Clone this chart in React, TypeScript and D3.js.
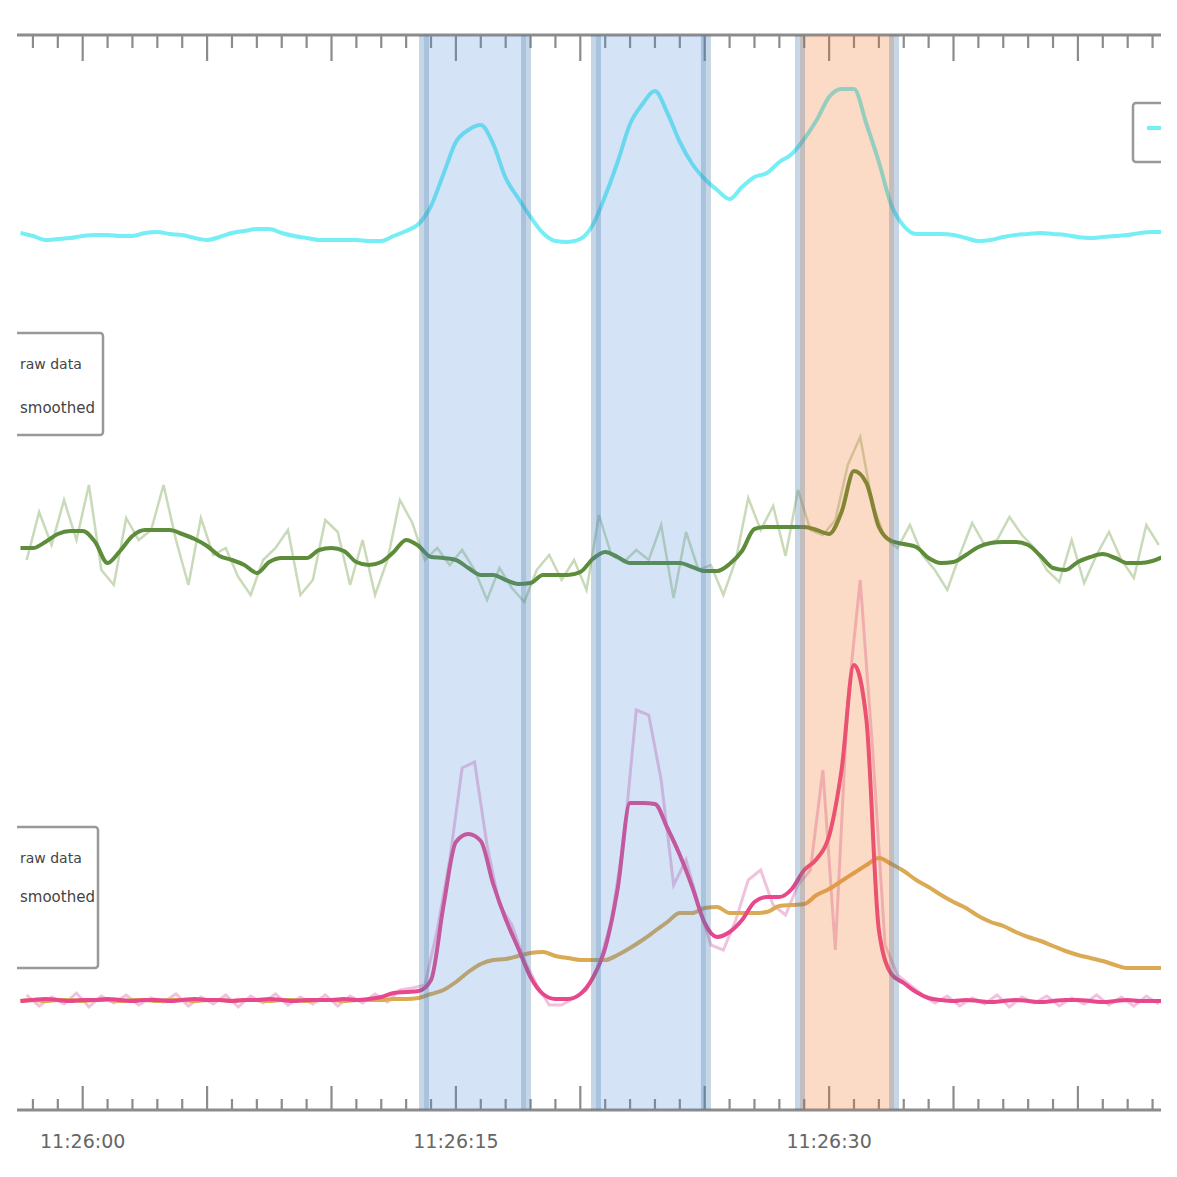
import React from "react";
import * as d3 from "d3";

// time base: 11:26:00, series sampled every 0.5 s
const BASE = new Date(2024, 0, 1, 11, 26, 0).getTime();
const SMOOTH_START = -2.5;
const RAW_START = -2.25;
const STEP = 0.5;

const respiration = [
  877, 874, 870, 871, 872, 874, 875, 875, 874, 874, 877, 878, 876, 875, 872, 870, 873, 877, 879, 881,
  881, 877, 874, 872, 870, 870, 870, 870, 869, 869, 874, 879, 886, 904, 936, 968, 980, 985, 966, 932,
  912, 893, 877, 869, 868, 871, 885, 914, 948, 986, 1006, 1019, 997, 968, 946, 931, 920, 911, 923, 933,
  937, 948, 956, 971, 990, 1013, 1021, 1021, 986, 948, 905, 884, 876, 876, 876, 875, 872, 869, 870, 873,
  875, 876, 877, 876, 875, 873, 872, 873, 874, 875, 877, 878, 878,
];

const hrSmooth = [
  562, 562, 568, 576, 579, 579, 568, 547, 559, 574, 580, 580, 580, 576, 571, 564, 554, 550, 545, 537,
  548, 552, 552, 552, 560, 562, 559, 548, 545, 548, 558, 570, 564, 553, 552, 550, 542, 535, 535, 530,
  526, 527, 535, 535, 535, 538, 551, 558, 553, 547, 547, 547, 547, 547, 543, 539, 539, 546, 559, 581,
  583, 583, 583, 583, 580, 576, 598, 639, 627, 583, 569, 566, 563, 552, 547, 548, 555, 563, 567, 568,
  568, 565, 554, 542, 540, 548, 553, 556, 552, 547, 547, 549, 554,
];

const hrRaw = [
  550, 598, 565, 610, 570, 625, 540, 525, 592, 570, 580, 625, 570, 525, 592, 555, 562, 533, 515, 550,
  562, 580, 515, 530, 590, 578, 525, 570, 515, 550, 610, 587, 550, 562, 545, 560, 540, 510, 542, 522,
  508, 540, 555, 530, 550, 520, 595, 555, 548, 560, 550, 585, 512, 578, 540, 545, 515, 550, 612, 580,
  604, 554, 620, 580, 575, 590, 645, 673, 605, 572, 562, 585, 555, 540, 520, 555, 587, 565, 570, 593,
  575, 562, 540, 528, 570, 527, 555, 578, 550, 532, 585, 565,
];

const edaSmooth = [
  109, 110, 111, 110, 109, 110, 110, 111, 110, 109, 110, 110, 109, 110, 111, 110, 110, 109, 110, 110,
  111, 110, 109, 110, 110, 110, 111, 110, 111, 113, 117, 118, 119, 130, 204, 268, 276, 269, 226, 191,
  162, 133, 116, 111, 111, 116, 132, 162, 221, 307, 307, 306, 282, 255, 223, 187, 173, 178, 190, 208,
  213, 213, 221, 240, 251, 274, 340, 445, 390, 180, 136, 127, 118, 112, 110, 109, 110, 109, 108, 109,
  110, 109, 108, 109, 110, 110, 109, 108, 109, 110, 109, 109, 109,
];

const edaRaw = [
  115, 104, 113, 106, 117, 103, 114, 107, 115, 105, 112, 108, 116, 104, 113, 106, 115, 103, 114, 107,
  116, 105, 113, 106, 115, 104, 114, 107, 116, 108, 120, 122, 125, 180, 250, 342, 348, 265, 205, 185,
  150, 125, 105, 105, 112, 120, 145, 190, 270, 400, 395, 330, 225, 250, 205, 165, 160, 190, 230, 240,
  205, 195, 225, 240, 340, 160, 410, 530, 360, 165, 135, 125, 115, 107, 114, 104, 112, 106, 115, 103,
  113, 107, 114, 104, 112, 106, 115, 105, 113, 104, 114, 106,
];

const edaTonic = [
  109, 110, 109, 110, 110, 109, 110, 110, 109, 110, 110, 109, 110, 110, 109, 110, 110, 109, 110, 110,
  109, 110, 110, 109, 110, 110, 109, 110, 110, 110, 111, 111, 112, 116, 120, 128, 138, 146, 150, 151,
  154, 157, 158, 154, 152, 150, 150, 150, 155, 162, 170, 179, 188, 197, 197, 202, 203, 197, 197, 197,
  198, 204, 205, 206, 215, 221, 229, 237, 245, 252, 246, 239, 230, 223, 215, 208, 202, 194, 188, 184,
  178, 173, 169, 164, 159, 155, 152, 149, 145, 142, 142, 142, 142,
];

// event windows (seconds after 11:26:00)
const regionStarts = [13.72, 20.63, 28.83];
const regionEnds = [17.82, 25.05, 32.61];
const regionKinds = ["blue", "blue", "orange"];

const legendHrLabels = ["raw data", "smoothed"];
const legendEdaLabels = ["raw data", "smoothed"];

const toDate = (s: number) => new Date(BASE + s * 1000);
const toPairs = (vals: number[], start: number): [number, number][] =>
  vals.map((v, i) => [start + i * STEP, v]);

export default function App() {
  const W = 1177;
  const H = 1177;
  const CLIP_R = 1161;
  const x = d3.scaleTime().domain([toDate(-2.6), toDate(46)]).range([18, 1227.2]);
  const y = d3.scaleLinear().domain([0, 1075]).range([1110, 35]);
  const yTop = y(1075);
  const yBot = y(0);

  const smooth = d3
    .line<[number, number]>()
    .x((d) => x(toDate(d[0])))
    .y((d) => y(d[1]))
    .curve(d3.curveMonotoneX);
  const raw = d3
    .line<[number, number]>()
    .x((d) => x(toDate(d[0])))
    .y((d) => y(d[1]))
    .curve(d3.curveLinear);

  const ticks = x.ticks(d3.timeSecond.every(1) as any);
  const fmt = d3.timeFormat("%H:%M:%S");
  const axisColor = "#8c8c8c";

  return (
    <svg
      width={W}
      height={H}
      style={{ position: "absolute", left: 0, top: 0, background: "#fff" }}
      fontFamily="DejaVu Sans, sans-serif"
    >
      <defs>
        <clipPath id="crop">
          <rect x={17} y={0} width={CLIP_R - 17} height={H} />
        </clipPath>
      </defs>
      <rect x={0} y={0} width={W} height={H} fill="#fff" />
      <g clipPath="url(#crop)">
        {/* axes */}
        <line x1={x.range()[0] - 1} x2={x.range()[1]} y1={yTop} y2={yTop} stroke={axisColor} strokeWidth={3} />
        <line x1={x.range()[0] - 3} x2={x.range()[1]} y1={yBot} y2={yBot} stroke={axisColor} strokeWidth={3} />
        {ticks.map((t, i) => {
          const s = t.getSeconds();
          const major = s % 5 === 0;
          const xx = x(t);
          return (
            <g key={i}>
              <line x1={xx} x2={xx} y1={yTop} y2={yTop + (major ? 26 : 13)} stroke={axisColor} strokeWidth={2.2} />
              <line x1={xx} x2={xx} y1={yBot} y2={yBot - (major ? 24 : 11)} stroke={axisColor} strokeWidth={2.2} />
              {s % 15 === 0 && xx + 50 < CLIP_R && (
                <text x={xx} y={yBot + 38} textAnchor="middle" fontSize={19} fill="#666">
                  {fmt(t)}
                </text>
              )}
            </g>
          );
        })}

        {/* traces */}
        <path d={raw(toPairs(hrRaw, RAW_START)) || ""} fill="none" stroke="#9cbc80" strokeOpacity={0.55} strokeWidth={2.5} />
        <path d={smooth(toPairs(hrSmooth, SMOOTH_START)) || ""} fill="none" stroke="#5d8c3a" strokeWidth={4} strokeLinejoin="round" />
        <path d={smooth(toPairs(respiration, SMOOTH_START)) || ""} fill="none" stroke="#76eef5" strokeWidth={4} strokeLinejoin="round" />
        <path d={raw(toPairs(edaRaw, RAW_START)) || ""} fill="none" stroke="#e89ac6" strokeOpacity={0.6} strokeWidth={3} />
        <path d={smooth(toPairs(edaTonic, SMOOTH_START)) || ""} fill="none" stroke="#dbaa55" strokeWidth={4} strokeLinejoin="round" />
        <path d={smooth(toPairs(edaSmooth, SMOOTH_START)) || ""} fill="none" stroke="#e8478b" strokeWidth={4} strokeLinejoin="round" />

        {/* event windows */}
        {regionStarts.map((s, i) => {
          const x0 = x(toDate(s));
          const x1 = x(toDate(regionEnds[i]));
          const fill = regionKinds[i] === "blue" ? "rgba(74,144,217,0.24)" : "rgba(240,115,35,0.26)";
          return (
            <g key={i}>
              <rect x={x0} y={yTop} width={x1 - x0} height={yBot - yTop} fill={fill} />
              <line x1={x0} x2={x0} y1={yTop} y2={yBot} stroke="rgba(70,120,170,0.3)" strokeWidth={10} />
              <line x1={x1} x2={x1} y1={yTop} y2={yBot} stroke="rgba(70,120,170,0.3)" strokeWidth={10} />
            </g>
          );
        })}

        {/* legend: respiration (top right, cropped at the edge) */}
        <rect x={1133} y={103} width={120} height={59} rx={3} fill="#fff" stroke="#999" strokeWidth={2.5} />
        <line x1={1147} x2={1177} y1={128} y2={128} stroke="#76eef5" strokeWidth={4} />

        {/* legend: heart rate */}
        <rect x={-60} y={333} width={163} height={102} rx={3} fill="#fff" stroke="#999" strokeWidth={2.5} />
        <text x={20} y={369} fontSize={14} fill="#444">{legendHrLabels[0]}</text>
        <text x={20} y={413} fontSize={15} fill="#444">{legendHrLabels[1]}</text>

        {/* legend: EDA */}
        <rect x={-60} y={827} width={158} height={141} rx={3} fill="#fff" stroke="#999" strokeWidth={2.5} />
        <text x={20} y={863} fontSize={14} fill="#444">{legendEdaLabels[0]}</text>
        <text x={20} y={902} fontSize={15} fill="#444">{legendEdaLabels[1]}</text>
      </g>
    </svg>
  );
}
